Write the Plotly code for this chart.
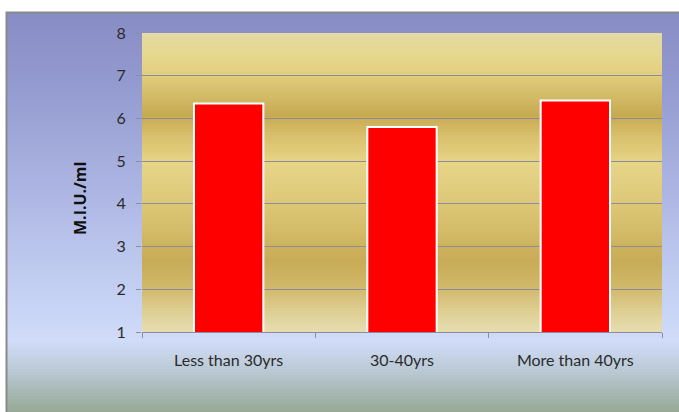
import plotly.graph_objects as go

# Serum level by age group
age_groups = ["Less than 30yrs", "30-40yrs", "More than 40yrs"]
levels = [6.35, 5.8, 6.42]
y_ticks = [1, 2, 3, 4, 5, 6, 7, 8]
y_title = "M.I.U./ml"

W, H = 679, 412
L, R, T, B = 142, 17, 33, 80
plot_w = W - L - R
plot_h = H - T - B
y_min, y_max = 1, 8


def hex_rgb(h):
    h = h.lstrip("#")
    return tuple(int(h[i:i + 2], 16) for i in (0, 2, 4))


def interp(stops, t):
    # stops: list of (pos, hex) sorted by pos
    for (p0, c0), (p1, c1) in zip(stops, stops[1:]):
        if p0 <= t <= p1:
            f = 0 if p1 == p0 else (t - p0) / (p1 - p0)
            a, b = hex_rgb(c0), hex_rgb(c1)
            return "rgb({},{},{})".format(*[round(a[i] + (b[i] - a[i]) * f) for i in range(3)])
    return "rgb({},{},{})".format(*hex_rgb(stops[-1][1]))


shapes = []

# Outer panel: vertical gradient in pixel rows (top -> bottom); rows overlap to avoid seams
panel_stops = [
    (12, "#878cc4"), (100, "#979ed2"), (200, "#afb8e4"), (300, "#c6d2f4"),
    (342, "#d0dcf8"), (372, "#b9c8d2"), (412, "#97a996"),
]
step = 3
py = 12
while py < H:
    c = interp(panel_stops, py + step / 2)
    shapes.append(dict(
        type="rect", xref="paper", yref="paper", layer="below",
        x0=(6 - L) / plot_w, x1=(W + 5 - L) / plot_w,
        y0=(H - B - (py + step + 2)) / plot_h, y1=(H - B - py) / plot_h,
        fillcolor=c, line=dict(width=0),
    ))
    py += step

# Panel border (left and top edges)
shapes.append(dict(
    type="rect", xref="paper", yref="paper", layer="below",
    x0=(6.5 - L) / plot_w, x1=(W + 10 - L) / plot_w,
    y0=(H - B - (H + 10)) / plot_h, y1=(H - B - 12.5) / plot_h,
    fillcolor="rgba(0,0,0,0)", line=dict(color="#8a8a8a", width=2),
))

# Plot area: golden banded gradient, in data units, painted bottom-up with overlap
gold_stops = [
    (1.0, "#e6dcae"), (1.5, "#dccb8c"), (2.0, "#d0b86a"), (2.6, "#c8ab56"),
    (3.6, "#d8c270"), (4.6, "#e4d184"), (4.9, "#e6d487"), (5.6, "#d6bd68"),
    (6.0, "#c7aa52"), (7.0, "#e2cf80"), (7.4, "#e6d78e"), (8.0, "#e3dba8"),
]
n = 100
dv = (y_max - y_min) / n
for i in range(n - 1, -1, -1):
    v0 = y_min + dv * i
    v1 = min(y_max, v0 + dv * 2)
    shapes.append(dict(
        type="rect", xref="paper", yref="y", layer="below",
        x0=0, x1=1, y0=v0, y1=v1,
        fillcolor=interp(gold_stops, v0 + dv / 2), line=dict(width=0),
    ))

fig = go.Figure()
fig.add_trace(go.Bar(
    x=age_groups, y=levels,
    marker=dict(color="#ff0000", line=dict(color="#ffffff", width=2)),
    width=0.4,
    hoverinfo="x+y",
))

font_family = "Lato, 'Open Sans', sans-serif"
fig.update_layout(
    width=W, height=H,
    margin=dict(l=L, r=R, t=T, b=B),
    paper_bgcolor="#ffffff",
    plot_bgcolor="rgba(0,0,0,0)",
    shapes=shapes,
    showlegend=False,
    font=dict(family=font_family, color="#2b2b2b"),
    xaxis=dict(
        showgrid=False, showline=True, linecolor="#8c8c9a", linewidth=1,
        ticks="outside", tickson="boundaries", ticklen=5, tickcolor="#8c8c9a",
        tickfont=dict(size=16, family=font_family, color="#2b2b2b"),
        ticklabelstandoff=14,
    ),
    yaxis=dict(
        range=[y_min, y_max], tickvals=y_ticks,
        showgrid=True, gridcolor="#8c8c9a", gridwidth=1,
        showline=False, zeroline=False,
        ticks="outside", ticklen=5, tickcolor="#8c8c9a",
        tickfont=dict(size=16, family=font_family, color="#2b2b2b"),
        ticklabelstandoff=7,
    ),
    annotations=[dict(
        text=y_title, textangle=-90, showarrow=False,
        xref="paper", yref="paper",
        x=(80 - L) / plot_w, y=(H - B - 199) / plot_h,
        xanchor="center", yanchor="middle",
        font=dict(size=16, family="'Open Sans', sans-serif", color="#111", weight="bold"),
    )],
)

fig.write_html("out.html")
